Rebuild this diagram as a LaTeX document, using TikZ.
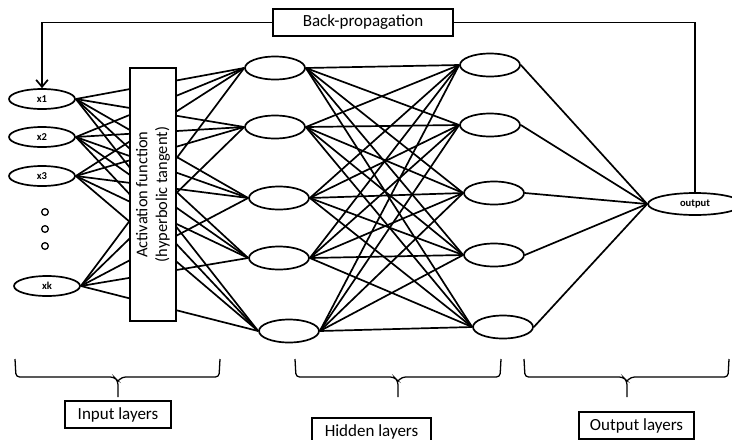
\documentclass[tikz,border=0pt]{standalone}
\usepackage{fontspec}
\setmainfont{Carlito}
\usetikzlibrary{arrows.meta, shapes.geometric}

\begin{document}
\begin{tikzpicture}[x=0.03cm, y=-0.03cm, >={Straight Barb[length=6pt,width=10pt]}, line width=1.45pt,
    neuron/.style={draw, ellipse, inner sep=0pt, minimum width=1.8cm, minimum height=0.69cm},
    innode/.style={neuron, minimum width=1.98cm, minimum height=0.6cm, font=\fontsize{9}{10}\selectfont\bfseries},
    labelbox/.style={draw, line width=1.1pt, minimum height=0.81cm, inner sep=2pt, font=\fontsize{14.5}{16}\selectfont}]
    % page size as the reference
    \useasboundingbox (0,0) rectangle (732,439);

    % input neurons
    \node[innode] (x1) at (42,99) {x1};
    \node[innode] (x2) at (42,137) {x2};
    \node[innode] (x3) at (42,176) {x3};
    \node[innode] (xk) at (47,286) {xk};
    \foreach \y in {212,229,246}
        \draw[line width=1.1pt] (45,\y) circle[radius=0.1cm];

    % first hidden layer
    \foreach \i/\x/\y in {1/275/68, 2/275/127, 3/279/198, 4/279/258, 5/289/331}
        \node[neuron] (a\i) at (\x,\y) {};
    % second hidden layer
    \foreach \i/\x/\y in {1/490/65, 2/490/125, 3/494/193, 4/494/255, 5/503/327}
        \node[neuron] (b\i) at (\x,\y) {};
    % output neuron
    \node[neuron, minimum width=2.82cm, minimum height=0.66cm, font=\fontsize{9}{10}\selectfont\bfseries] (out) at (695,204) {output};

    % weights
    \foreach \s in {x1,x2,x3,xk}
        \foreach \t in {1,...,5}
            \draw (\s.east) -- (a\t.west);
    \foreach \s in {1,...,5}
        \foreach \t in {1,...,5}
            \draw (a\s.east) -- (b\t.west);
    \foreach \s in {1,...,5}
        \draw (b\s.east) -- (out.west);

    % activation box sits on top of the input lines
    \node[draw, fill=white, rotate=90, align=center, minimum width=7.59cm, minimum height=1.38cm, inner sep=0pt, line width=1.1pt, font=\fontsize{14}{17}\selectfont] (act) at (153,194.5) {Activation function\\(hyperbolic tangent)};

    % feedback loop
    \node[labelbox, minimum width=5.4cm] (bp) at (363,22.5) {Back-propagation};
    \draw[->] (bp.west) -| (x1.north);
    \draw (bp.east) -| (out.north);

    % braces
    \foreach \l/\r/\m in {15/220/118, 295/501/398, 524/729/627} {
        \draw[line width=1.1pt, rounded corners=3pt] (\l,359) -- (\l+1,377) -- (\m-4,377) -- (\m,381) -- (\m,397);
        \draw[line width=1.1pt, rounded corners=3pt] (\r,359) -- (\r-1,377) -- (\m+4,377) -- (\m,381);
    }

    % layer names
    \node[labelbox, minimum width=3.18cm] (inl) at (118,414.5) {Input layers};
    \node[labelbox, minimum width=3.57cm] (hidl) at (371.5,431.5) {Hidden layers};
    \node[labelbox, minimum width=3.45cm] (outl) at (636.5,425.5) {Output layers};
\end{tikzpicture}
\end{document}
